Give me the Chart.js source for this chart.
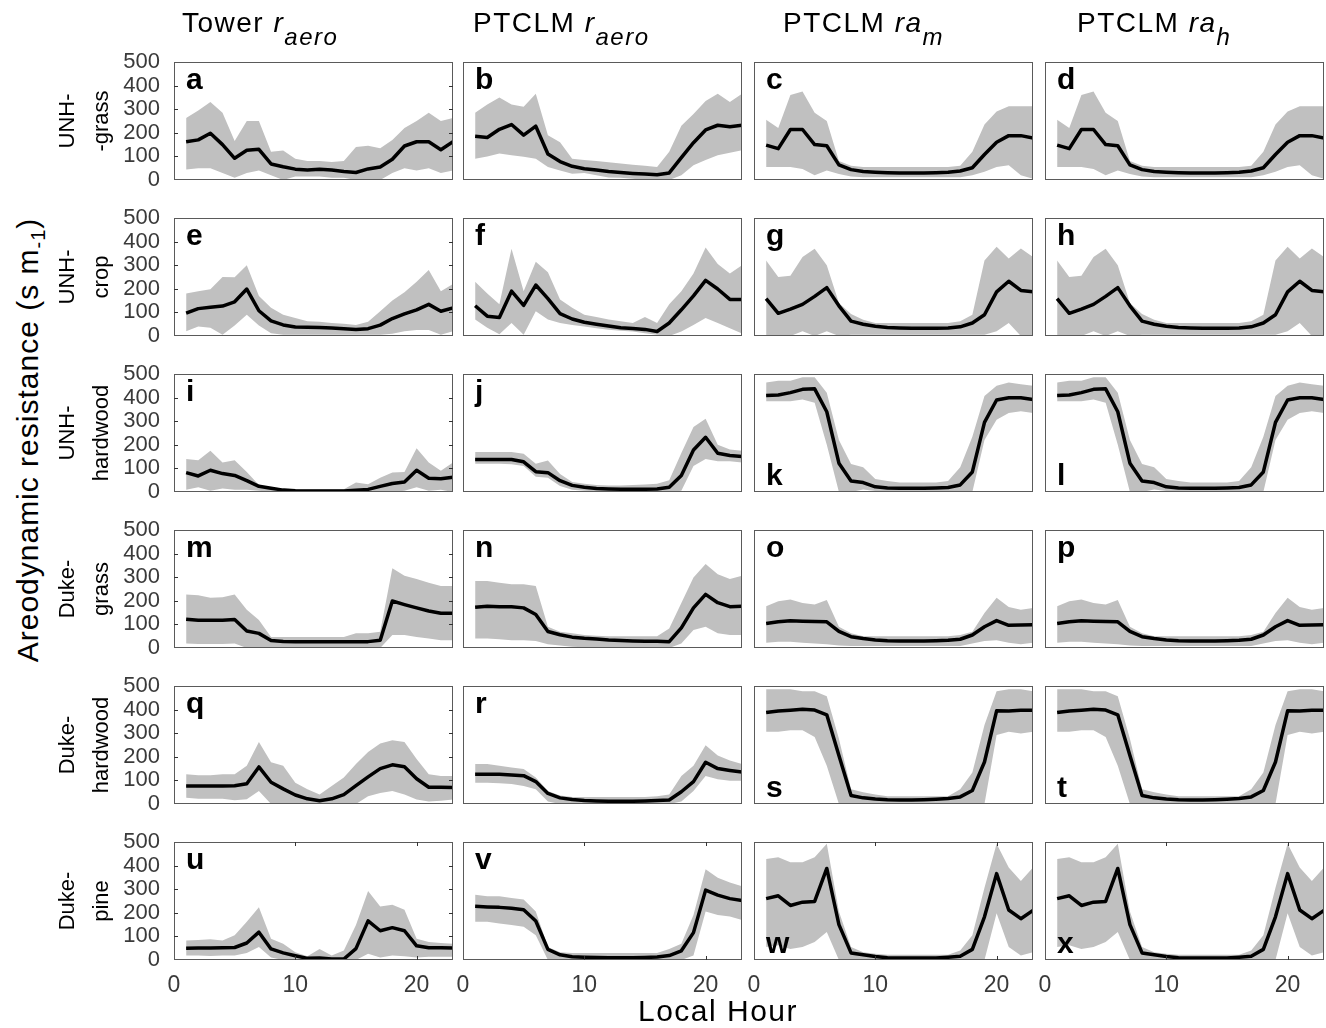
<!DOCTYPE html>
<html>
<head>
<meta charset="utf-8">
<script src="https://cdn.jsdelivr.net/npm/chart.js@4.4.0/dist/chart.umd.min.js"></script>
<style>
  body { margin: 0; background: #fff; }
  #fig { position: relative; width: 1326px; height: 1028px; overflow: hidden; font-family: "Liberation Sans", Arial, sans-serif; color: #000; }
  #fig canvas { position: absolute; }
  .txt { position: absolute; white-space: nowrap; line-height: 1; }
  .ttl { font-size: 28px; letter-spacing: 1.5px; }
  .ttl i.sub { font-size: 24px; position: relative; top: 13px; }
  .lbl { font-weight: bold; font-size: 30px; }
  .site { font-size: 22px; line-height: 34px; text-align: center; transform: translate(-50%, -50%) rotate(-90deg); }
  .ytitle { font-size: 30px; letter-spacing: 1px; transform: translate(-50%, -50%) rotate(-90deg); }
  .ytitle sub { font-size: 20px; }
  .xtitle { font-size: 30px; letter-spacing: 1.5px; transform: translateX(-50%); }
</style>
</head>
<body>
<div id="fig"></div>
<script>
// hours of the day on the x axis, values in s m-1
const hours = [1, 2, 3, 4, 5, 6, 7, 8, 9, 10, 11, 12, 13, 14, 15, 16, 17, 18, 19, 20, 21, 22, 23];
const xTicks = [0, 10, 20];
const yTicks = [0, 100, 200, 300, 400, 500];

const colTitles = [['Tower', 'r', 'aero'], ['PTCLM', 'r', 'aero'], ['PTCLM', 'ra', 'm'], ['PTCLM', 'ra', 'h']];
const siteLabels = [['UNH-', '-grass'], ['UNH-', 'crop'], ['UNH-', 'hardwood'], ['Duke-', 'grass'], ['Duke-', 'hardwood'], ['Duke-', 'pine']];

// UNH-grass
const aMean = [162, 170, 198, 150, 92, 126, 130, 68, 56, 46, 42, 46, 42, 36, 32, 47, 55, 88, 144, 162, 162, 128, 162];
const aLow = [45, 50, 50, 30, 10, 30, 40, 20, 0, 15, 15, 15, 10, 10, 0, 0, 0, 30, 50, 40, 50, 30, 40];
const aHigh = [263, 295, 330, 285, 165, 250, 250, 120, 125, 90, 80, 80, 76, 80, 140, 145, 135, 170, 220, 250, 285, 250, 263];
const bMean = [185, 180, 215, 235, 190, 228, 110, 78, 58, 48, 42, 36, 32, 28, 25, 22, 30, 95, 158, 212, 232, 226, 232];
const bLow = [90, 100, 112, 105, 98, 90, 55, 40, 26, 30, 20, 11, 10, 5, 0, 0, 0, 20, 62, 85, 105, 115, 126];
const bHigh = [285, 320, 350, 320, 310, 365, 190, 160, 90, 85, 80, 75, 70, 65, 60, 55, 120, 230, 280, 335, 365, 330, 365];
const cMean = [148, 133, 214, 214, 150, 145, 64, 44, 36, 33, 31, 30, 30, 30, 31, 33, 38, 52, 108, 160, 188, 188, 178];
const cLow = [55, 55, 55, 47, 20, 40, 25, 15, 12, 12, 12, 12, 12, 12, 12, 12, 12, 20, 35, 55, 62, 20, 5];
const cHigh = [255, 220, 360, 375, 285, 250, 80, 60, 55, 55, 55, 55, 55, 55, 55, 55, 60, 120, 235, 290, 313, 313, 313];

// UNH-crop
const eMean = [97, 116, 122, 127, 145, 199, 107, 64, 47, 38, 37, 36, 34, 31, 28, 31, 46, 74, 94, 111, 134, 105, 119];
const eLow = [20, 40, 35, 5, 45, 90, 45, 12, 5, 5, 5, 5, 5, 5, 5, 5, 5, 10, 20, 25, 25, 5, 20];
const eHigh = [180, 190, 198, 250, 249, 300, 170, 120, 90, 76, 62, 60, 55, 52, 47, 60, 105, 150, 185, 230, 280, 190, 220];
const fMean = [128, 84, 78, 190, 130, 216, 158, 95, 72, 58, 50, 42, 35, 32, 28, 19, 55, 111, 170, 236, 199, 155, 155];
const fLow = [70, 35, 7, 55, 5, 105, 70, 55, 47, 40, 33, 26, 22, 19, 12, 5, 0, 19, 47, 76, 55, 33, 11];
const fHigh = [230, 180, 135, 370, 190, 315, 270, 155, 120, 90, 80, 70, 62, 55, 80, 55, 135, 190, 265, 375, 305, 265, 300];
const gMean = [158, 96, 114, 134, 168, 205, 128, 63, 50, 41, 36, 34, 33, 33, 33, 34, 39, 55, 90, 187, 232, 193, 187];
const gLow = [0, 0, 0, 20, 0, 20, 0, 5, 5, 5, 5, 5, 5, 5, 5, 5, 5, 5, 5, 20, 55, 0, 0];
const gHigh = [320, 250, 255, 335, 370, 300, 140, 93, 69, 55, 55, 55, 55, 55, 55, 55, 62, 90, 320, 378, 328, 371, 335];

// UNH-hardwood
const iMean = [82, 68, 92, 78, 70, 48, 24, 16, 8, 5, 4, 4, 4, 4, 7, 11, 24, 36, 42, 92, 58, 56, 63];
const iLow = [10, 20, 5, 15, 10, 10, 5, 0, 0, 0, 0, 0, 0, 0, 0, 0, 0, 0, 5, 20, 5, 10, 0];
const iHigh = [140, 135, 175, 125, 135, 85, 30, 20, 15, 12, 12, 12, 12, 12, 40, 33, 60, 83, 85, 185, 125, 90, 125];
const jMean = [138, 138, 138, 138, 128, 86, 82, 48, 28, 20, 15, 13, 12, 12, 12, 13, 20, 70, 178, 232, 164, 155, 150];
const jLow = [120, 120, 120, 118, 110, 65, 60, 25, 10, 5, 3, 2, 2, 2, 2, 2, 0, 5, 110, 140, 130, 130, 125];
const jHigh = [170, 170, 170, 170, 162, 120, 134, 76, 42, 35, 30, 28, 28, 30, 32, 35, 50, 165, 275, 310, 200, 180, 175];
const kMean = [409, 411, 421, 435, 437, 340, 122, 47, 40, 22, 17, 16, 16, 16, 17, 19, 30, 85, 295, 390, 399, 399, 392];
const kLow = [385, 385, 385, 392, 378, 200, 0, 0, 11, 4, 4, 4, 4, 4, 4, 4, 0, 0, 220, 306, 335, 342, 335];
const kHigh = [464, 471, 471, 486, 486, 421, 220, 119, 105, 55, 47, 40, 40, 40, 40, 47, 105, 234, 407, 450, 464, 457, 450];

// Duke-grass
const mMean = [122, 118, 118, 118, 121, 72, 62, 32, 28, 27, 27, 27, 27, 27, 27, 27, 33, 199, 184, 170, 157, 147, 147];
const mLow = [19, 17, 17, 17, 19, 0, 0, 0, 0, 0, 0, 0, 0, 0, 0, 0, 0, 55, 55, 47, 40, 33, 33];
const mHigh = [227, 223, 213, 215, 227, 162, 119, 47, 47, 47, 47, 47, 47, 47, 62, 62, 69, 338, 306, 292, 277, 263, 263];
const nMean = [173, 177, 175, 175, 170, 142, 70, 56, 46, 41, 38, 34, 32, 30, 29, 29, 27, 85, 170, 227, 192, 175, 177];
const nLow = [40, 40, 37, 33, 33, 30, 16, 11, 5, 3, 3, 3, 3, 3, 3, 3, 0, 19, 76, 90, 62, 55, 55];
const nHigh = [284, 284, 277, 270, 270, 263, 90, 69, 62, 55, 52, 50, 50, 50, 50, 50, 83, 191, 299, 356, 313, 292, 306];
const oMean = [104, 111, 115, 113, 112, 111, 70, 48, 40, 34, 31, 30, 30, 30, 31, 33, 37, 55, 90, 116, 96, 97, 98];
const oLow = [22, 26, 26, 22, 19, 16, 11, 9, 9, 9, 9, 9, 9, 9, 9, 9, 9, 19, 30, 33, 22, 16, 22];
const oHigh = [177, 198, 205, 191, 184, 203, 90, 62, 50, 50, 50, 50, 50, 50, 50, 50, 55, 69, 148, 213, 174, 162, 170];

// Duke-hardwood
const qMean = [76, 76, 76, 76, 77, 86, 157, 92, 64, 38, 22, 14, 22, 40, 78, 115, 150, 166, 158, 107, 71, 71, 70];
const qLow = [26, 22, 22, 22, 16, 20, 55, 0, 0, 0, 0, 0, 0, 0, 0, 33, 47, 55, 40, 19, 11, 14, 19];
const qHigh = [126, 122, 122, 126, 126, 162, 263, 177, 162, 90, 62, 40, 76, 112, 170, 220, 256, 270, 263, 191, 126, 119, 119];
const rMean = [126, 126, 126, 123, 120, 95, 45, 26, 19, 15, 13, 12, 12, 12, 13, 15, 17, 52, 95, 177, 150, 142, 135];
const rLow = [90, 90, 88, 85, 76, 62, 11, 0, 0, 0, 0, 0, 0, 0, 0, 0, 0, 11, 55, 119, 105, 98, 98];
const rHigh = [170, 170, 162, 155, 148, 112, 55, 36, 30, 30, 30, 30, 30, 30, 30, 33, 40, 119, 162, 249, 205, 184, 170];
const sMean = [388, 394, 397, 401, 398, 378, 205, 36, 26, 21, 18, 17, 17, 18, 20, 23, 30, 57, 178, 395, 394, 397, 397];
const sLow = [306, 306, 313, 313, 284, 162, 0, 0, 2, 2, 2, 2, 2, 2, 2, 2, 2, 0, 0, 292, 306, 299, 306];
const sHigh = [486, 486, 486, 478, 478, 457, 277, 62, 50, 40, 33, 33, 33, 33, 33, 33, 62, 134, 335, 478, 486, 486, 478];

// Duke-pine
const uMean = [50, 51, 51, 52, 53, 72, 118, 47, 30, 18, 7, 8, 4, 4, 48, 166, 124, 137, 124, 60, 52, 52, 51];
const uLow = [19, 19, 17, 19, 19, 30, 55, 11, 0, 0, 0, 0, 0, 0, 0, 26, 11, 19, 16, 11, 14, 14, 14];
const uHigh = [83, 85, 88, 83, 105, 162, 223, 90, 69, 33, 16, 47, 19, 40, 148, 292, 227, 234, 213, 90, 76, 72, 69];
const vMean = [228, 225, 223, 219, 213, 165, 45, 22, 14, 12, 11, 10, 10, 10, 11, 13, 19, 39, 116, 296, 275, 260, 252];
const vLow = [162, 162, 155, 148, 141, 105, 0, 0, 0, 0, 0, 0, 0, 0, 0, 0, 0, 0, 19, 205, 191, 184, 170];
const vHigh = [277, 270, 270, 263, 256, 205, 55, 33, 30, 30, 30, 30, 30, 30, 30, 30, 47, 69, 191, 385, 349, 328, 313];
const wMean = [260, 272, 231, 245, 248, 388, 150, 30, 22, 15, 10, 9, 8, 8, 9, 12, 16, 45, 183, 366, 212, 175, 210];
const wLow = [55, 62, 47, 55, 76, 119, 0, 0, 0, 0, 0, 0, 0, 0, 0, 0, 0, 0, 0, 198, 55, 19, 33];
const wHigh = [428, 435, 414, 414, 435, 493, 205, 55, 33, 26, 22, 22, 22, 22, 22, 22, 40, 105, 306, 493, 392, 335, 392];

// ra_h panels are the same as ra_m
const panels = [
  ['a', aMean, aLow, aHigh], ['b', bMean, bLow, bHigh], ['c', cMean, cLow, cHigh], ['d', cMean, cLow, cHigh],
  ['e', eMean, eLow, eHigh], ['f', fMean, fLow, fHigh], ['g', gMean, gLow, gHigh], ['h', gMean, gLow, gHigh],
  ['i', iMean, iLow, iHigh], ['j', jMean, jLow, jHigh], ['k', kMean, kLow, kHigh], ['l', kMean, kLow, kHigh],
  ['m', mMean, mLow, mHigh], ['n', nMean, nLow, nHigh], ['o', oMean, oLow, oHigh], ['p', oMean, oLow, oHigh],
  ['q', qMean, qLow, qHigh], ['r', rMean, rLow, rHigh], ['s', sMean, sLow, sHigh], ['t', sMean, sLow, sHigh],
  ['u', uMean, uLow, uHigh], ['v', vMean, vLow, vHigh], ['w', wMean, wLow, wHigh], ['x', wMean, wLow, wHigh],
];
const bottomLetters = 'klstwx';

const fig = document.getElementById('fig');
const colLeft = [174, 463, 754, 1045];
const plotW = 279, plotH = 118, rowStep = 156, firstTop = 62;
const padL = 70, padT = 15, padR = 15, padB = 45;

Chart.defaults.font.family = '"Liberation Sans", Arial, sans-serif';

function addText(cls, html, x, y) {
  const d = document.createElement('div');
  d.className = 'txt ' + cls;
  d.innerHTML = html;
  d.style.left = x + 'px';
  d.style.top = y + 'px';
  fig.appendChild(d);
  return d;
}

const pts = vals => hours.map((h, i) => ({x: h, y: vals[i]}));

// box round each panel, with small inside ticks where the axis is labelled
const boxPlugin = {
  id: 'box',
  afterDatasetsDraw(chart, args, opts) {
    const {ctx, chartArea: a, scales} = chart;
    ctx.save();
    ctx.strokeStyle = '#5a5a5a';
    ctx.lineWidth = 1;
    ctx.strokeRect(a.left + 0.5, a.top + 0.5, a.right - a.left - 1, a.bottom - a.top - 1);
    ctx.strokeStyle = '#333';
    ctx.beginPath();
    if (opts.yTicks) {
      yTicks.slice(1, -1).forEach(v => {
        const y = Math.round(scales.y.getPixelForValue(v)) + 0.5;
        ctx.moveTo(a.left, y); ctx.lineTo(a.left + 4, y);
        ctx.moveTo(a.right - 4, y); ctx.lineTo(a.right, y);
      });
    }
    if (opts.xTicks) {
      xTicks.slice(1).forEach(v => {
        const x = Math.round(scales.x.getPixelForValue(v)) + 0.5;
        ctx.moveTo(x, a.top); ctx.lineTo(x, a.top + 4);
        ctx.moveTo(x, a.bottom - 4); ctx.lineTo(x, a.bottom);
      });
    }
    ctx.stroke();
    ctx.restore();
  }
};

panels.forEach((p, idx) => {
  const [letter, mean, low, high] = p;
  const r = Math.floor(idx / 4), c = idx % 4;
  const L = colLeft[c], T = firstTop + r * rowStep;
  const showY = c === 0, showX = r === 5;

  const cv = document.createElement('canvas');
  cv.width = plotW + padL + padR;
  cv.height = plotH + padT + padB;
  cv.style.left = (L - padL) + 'px';
  cv.style.top = (T - padT) + 'px';
  fig.appendChild(cv);

  new Chart(cv, {
    type: 'line',
    data: {
      datasets: [{
        data: pts(mean),
        borderColor: '#000',
        borderWidth: 3.5,
        borderJoinStyle: 'round',
        pointRadius: 0,
        fill: false,
      }, {
        data: pts(high),
        borderWidth: 0,
        borderColor: 'rgba(0,0,0,0)',
        backgroundColor: '#c0c0c0',
        pointRadius: 0,
        fill: '+1',
      }, {
        data: pts(low),
        borderWidth: 0,
        borderColor: 'rgba(0,0,0,0)',
        pointRadius: 0,
        fill: false,
      }]
    },
    options: {
      responsive: false,
      animation: false,
      events: [],
      layout: { padding: { top: padT, right: padR, left: 0, bottom: 0 } },
      plugins: {
        legend: { display: false },
        tooltip: { enabled: false },
        box: { yTicks: showY, xTicks: showX },
      },
      scales: {
        x: {
          type: 'linear',
          min: 0,
          max: 23,
          grid: { display: false, drawTicks: false },
          border: { display: false },
          afterBuildTicks: s => { s.ticks = xTicks.map(v => ({value: v})); },
          afterFit: s => { s.height = padB; s.paddingLeft = 0; s.paddingRight = 0; },
          ticks: { autoSkip: false, maxRotation: 0, padding: 12, color: showX ? '#3a3a3a' : 'rgba(0,0,0,0)', font: { size: 23 } },
        },
        y: {
          min: 0,
          max: 500,
          grid: { display: false, drawTicks: false },
          border: { display: false },
          afterBuildTicks: s => { s.ticks = yTicks.map(v => ({value: v})); },
          afterFit: s => { s.width = padL; s.paddingTop = 0; s.paddingBottom = 0; },
          ticks: { autoSkip: false, padding: 14, color: showY ? '#3a3a3a' : 'rgba(0,0,0,0)', font: { size: 22 } },
        }
      }
    },
    plugins: [boxPlugin]
  });

  // panel letter
  const ly = bottomLetters.includes(letter) ? T + plotH - 32 : T + 2;
  addText('lbl', letter, L + 12, ly);
});

// column titles
const titleLeft = [182, 473, 783, 1077];
colTitles.forEach((t, c) => {
  addText('ttl', t[0] + ' <i>' + t[1] + '</i><i class="sub">' + t[2] + '</i>', titleLeft[c], 9);
});

// site labels down the left side
siteLabels.forEach((s, r) => {
  addText('site', s[0] + '<br>' + s[1], 84, firstTop + r * rowStep + plotH / 2);
});

addText('ytitle', 'Areodynamic resistance (s m<sub>-1</sub>)', 30, 440);
addText('xtitle', 'Local Hour', 718, 996);
</script>
</body>
</html>
